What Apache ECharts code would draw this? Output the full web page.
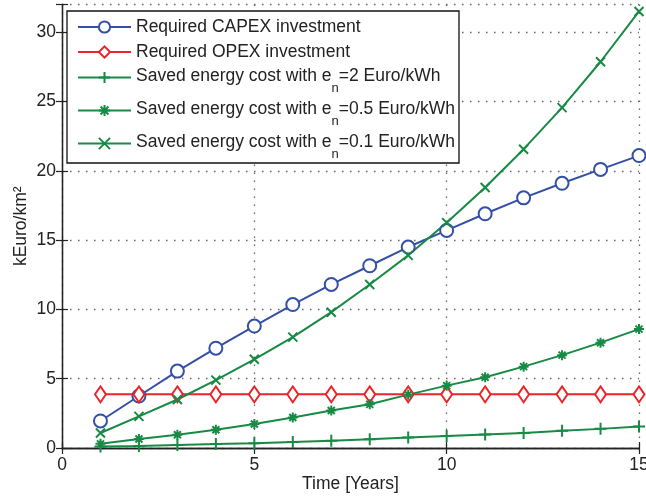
<!DOCTYPE html>
<html>
<head>
<meta charset="utf-8">
<script src="https://cdn.jsdelivr.net/npm/echarts@6/dist/echarts.min.js"></script>
<style>
  html, body { margin: 0; padding: 0; background: #fff; }
  #chart { width: 646px; height: 498px; }
</style>
</head>
<body>
<div id="chart"></div>
<script>
// Years on the horizontal axis
const years = [1, 2, 3, 4, 5, 6, 7, 8, 9, 10, 11, 12, 13, 14, 15];

// Cumulative costs / savings in kEuro per km^2
const capex = [1.95, 3.75, 5.55, 7.2, 8.8, 10.35, 11.8, 13.15, 14.5, 15.7, 16.9, 18.05, 19.1, 20.1, 21.1];
const opex = [3.87, 3.87, 3.87, 3.87, 3.87, 3.87, 3.87, 3.87, 3.87, 3.87, 3.87, 3.87, 3.87, 3.87, 3.87];
const saved2 = [0.1, 0.15, 0.22, 0.28, 0.35, 0.43, 0.52, 0.64, 0.75, 0.87, 0.97, 1.09, 1.24, 1.38, 1.55];
const saved05 = [0.3, 0.65, 0.96, 1.32, 1.73, 2.2, 2.7, 3.15, 3.85, 4.5, 5.1, 5.87, 6.7, 7.6, 8.58];
const saved01 = [1.08, 2.28, 3.5, 4.9, 6.4, 8.0, 9.8, 11.8, 13.9, 16.26, 18.8, 21.56, 24.56, 27.87, 31.5];

const seriesNames = [
  'Required CAPEX investment',
  'Required OPEX investment',
  'Saved energy cost with e_n=2 Euro/kWh',
  'Saved energy cost with e_n=0.5 Euro/kWh',
  'Saved energy cost with e_n=0.1 Euro/kWh'
];

const xTicks = { min: 0, max: 15, interval: 5 };
const yTicks = { min: 0, max: 32, interval: 5 };

const BLUE = '#3350a6';
const RED = '#ec2328';
const GREEN = '#178a44';
const FONT = 'Liberation Sans, Arial, sans-serif';
const TXT = '#222';

const PLUS = 'path://M0,5L10,5M5,0L5,10';
const STAR = 'path://M0,5L10,5M5,0L5,10M1.5,1.5L8.5,8.5M8.5,1.5L1.5,8.5';
const CROSS = 'path://M0,0L10,10M10,0L0,10';

const pairs = (ys) => years.map((x, i) => [x, ys[i]]);

function lineSeries(name, data, color, symbol, size, hollow) {
  return {
    name: name,
    type: 'line',
    data: pairs(data),
    symbol: symbol,
    symbolSize: size,
    showAllSymbol: true,
    lineStyle: { color: color, width: 2 },
    itemStyle: hollow
      ? { color: '#fff', borderColor: color, borderWidth: 2 }
      : { color: color, borderColor: color, borderWidth: 2 },
    emphasis: { disabled: true },
    animation: false,
    z: 3
  };
}

const baseAxisLine = { show: true, lineStyle: { color: '#222', width: 1.3 } };
const tickIn = { show: true, inside: true, length: 6, lineStyle: { color: '#222', width: 1.2 } };
const gridDots = { show: true, lineStyle: { color: '#666', width: 1.3, type: [1.5, 6.5] } };

const chart = echarts.init(document.getElementById('chart'), null, { renderer: 'canvas' });

chart.setOption({
  backgroundColor: '#fff',
  animation: false,
  grid: { left: 62, right: 7, top: 4.5, bottom: 50, containLabel: false, outerBoundsMode: 'none' },
  legend: {
    orient: 'vertical',
    left: 67,
    top: 11,
    padding: [6, 4, 2, 10],
    itemGap: 5,
    itemWidth: 53,
    itemHeight: 14,
    backgroundColor: '#fff',
    borderColor: '#111',
    borderWidth: 1.3,
    z: 10,
    selectedMode: false,
    data: seriesNames,
    formatter: function (name) {
      const k = name.indexOf('e_n');
      if (k < 0) return '{b|' + name + '}';
      return '{a|' + name.slice(0, k + 1) + '}{s|n}{a|' + name.slice(k + 3) + '}';
    },
    textStyle: {
      fontFamily: FONT,
      fontSize: 17.5,
      color: TXT,
      rich: {
        a: { fontFamily: FONT, fontSize: 17.5, color: TXT, lineHeight: 21, verticalAlign: 'top' },
        b: { fontFamily: FONT, fontSize: 17.5, color: TXT, lineHeight: 21, padding: [1, 0, 1, 0] },
        s: { fontFamily: FONT, fontSize: 13, color: TXT, lineHeight: 12, verticalAlign: 'top', padding: [15, 0, 0, 0] }
      }
    }
  },
  xAxis: [
    {
      type: 'value',
      position: 'bottom',
      min: xTicks.min, max: xTicks.max, interval: xTicks.interval,
      name: 'Time [Years]',
      nameLocation: 'middle',
      nameGap: 27,
      nameMoveOverlap: false,
      nameTextStyle: { fontFamily: FONT, fontSize: 17.5, color: TXT },
      axisLine: baseAxisLine,
      axisTick: tickIn,
      axisLabel: { fontFamily: FONT, fontSize: 17.5, color: TXT, margin: 8 },
      splitLine: gridDots
    },
    {
      type: 'value',
      position: 'top',
      min: xTicks.min, max: xTicks.max, interval: xTicks.interval,
      axisLine: baseAxisLine,
      axisTick: tickIn,
      axisLabel: { show: false },
      splitLine: { show: false }
    }
  ],
  yAxis: [
    {
      type: 'value',
      position: 'left',
      min: yTicks.min, max: yTicks.max, interval: yTicks.interval,
      name: 'kEuro/km²',
      nameLocation: 'middle',
      nameGap: 32,
      nameMoveOverlap: false,
      nameTextStyle: { fontFamily: FONT, fontSize: 17.5, color: TXT },
      axisLine: baseAxisLine,
      axisTick: tickIn,
      axisLabel: {
        fontFamily: FONT, fontSize: 17.5, color: TXT, margin: 6,
        formatter: (v) => (v % yTicks.interval === 0 ? String(v) : '')
      },
      splitLine: gridDots
    },
    {
      type: 'value',
      position: 'right',
      min: yTicks.min, max: yTicks.max, interval: yTicks.interval,
      axisLine: baseAxisLine,
      axisTick: tickIn,
      axisLabel: { show: false },
      splitLine: { show: false }
    }
  ],
  series: [
    lineSeries(seriesNames[0], capex, BLUE, 'circle', 13, true),
    lineSeries(seriesNames[1], opex, RED, 'diamond', [11, 16], true),
    lineSeries(seriesNames[2], saved2, GREEN, PLUS, 12, false),
    lineSeries(seriesNames[3], saved05, GREEN, STAR, 10, false),
    lineSeries(seriesNames[4], saved01, GREEN, CROSS, 9, false)
  ]
});
</script>
</body>
</html>
